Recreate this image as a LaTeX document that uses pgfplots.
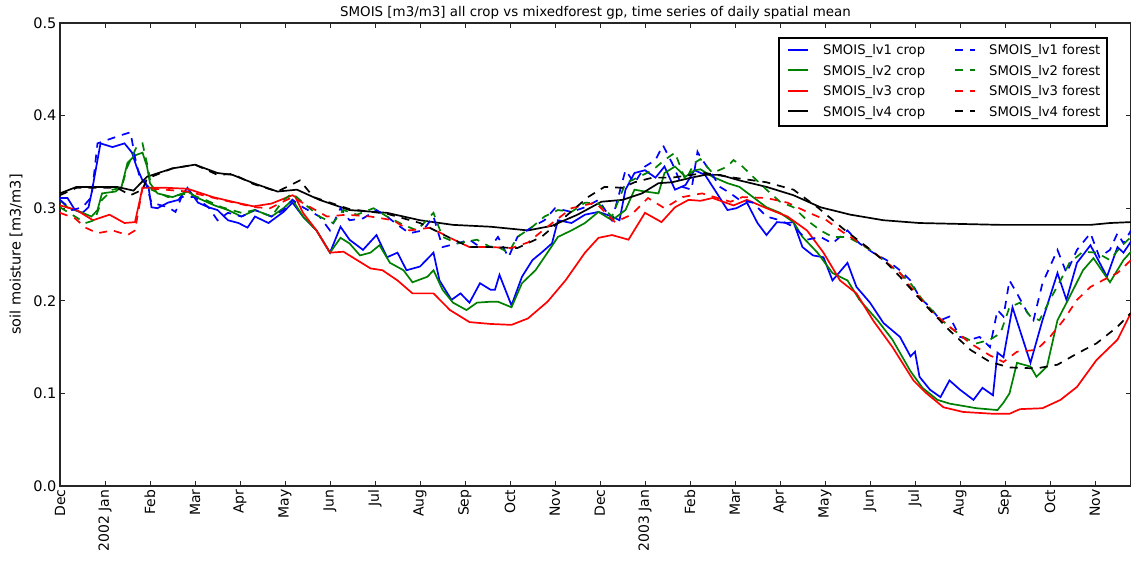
\documentclass[border=0pt]{standalone}
\usepackage{pgfplots}
\pgfplotsset{compat=1.18}
\usepackage{fontspec}
\setmainfont{DejaVu Sans}

\definecolor{mplblue}{rgb}{0,0,1}
\definecolor{mplgreen}{rgb}{0,0.5,0}
\definecolor{mplred}{rgb}{1,0,0}

\tikzset{
  crop/.style={line width=1.7pt},
  forest/.style={line width=1.7pt, dash pattern=on 8pt off 7pt},
}

% one legend row: crop sample + label, forest sample + label
\newcommand{\legrow}[3]{%
  \draw[#2, crop, line width=2pt] (728pt,#1) -- ++(20pt,0pt);
  \node[anchor=base west, inner sep=0pt, font=\fontsize{13.2}{16}\selectfont]
    at ([yshift=-4.7pt]763pt,#1) {SMOIS\_lv#3 crop};
  \draw[#2, forest, line width=2pt] (895pt,#1) -- ++(20pt,0pt);
  \node[anchor=base west, inner sep=0pt, font=\fontsize{13.2}{16}\selectfont]
    at ([yshift=-4.7pt]929pt,#1) {SMOIS\_lv#3 forest};}

% daily spatial means, x = days since 1 Dec 2001 (ticks every 30 days)
\begin{document}
\begin{tikzpicture}
\useasboundingbox (-60pt,-79pt) rectangle (1071pt,486pt);
\begin{axis}[
  at={(0,0)}, anchor=south west,
  scale only axis, width=1071pt, height=463pt,
  xmin=0, xmax=714, ymin=0, ymax=0.5,
  xtick={0,30,60,90,120,150,180,210,240,270,300,330,360,390,420,450,480,510,540,570,600,630,660,690},
  xticklabels={Dec,2002 Jan,Feb,Mar,Apr,May,Jun,Jul,Aug,Sep,Oct,Nov,Dec,2003 Jan,Feb,Mar,Apr,May,Jun,Jul,Aug,Sep,Oct,Nov},
  ytick={0,0.1,0.2,0.3,0.4,0.5},
  yticklabels={0.0,0.1,0.2,0.3,0.4,0.5},
  xticklabel style={rotate=90, anchor=east, font=\fontsize{14}{16}\selectfont},
  yticklabel style={font=\fontsize{14.5}{16}\selectfont},
  tick align=inside, major tick length=5pt,
  tick style={black!85, line width=0.8pt},
  axis line style={black!85, line width=1.2pt},
  title={SMOIS [m3/m3] all crop vs mixedforest gp, time series of daily spatial mean},
  title style={at={(axis description cs:0.5,1)}, anchor=center, yshift=4pt, font=\fontsize{13.4}{15}\selectfont},
  ylabel={soil moisture [m3/m3]},
  ylabel style={at={(axis description cs:-0.041,0.5)}, anchor=center, font=\fontsize{14.5}{16}\selectfont},
]
% ---- crop, level 1
\addplot[mplblue, crop] coordinates {
(0,0.311)(5,0.311)(10,0.298)(15,0.295)(19,0.301)(21,0.316)(25,0.352)(27,0.370)(35,0.366)(43,0.370)
(48,0.360)(51,0.345)(55,0.330)(59,0.323)(61,0.301)(65,0.300)(72,0.306)(79,0.309)(85,0.322)(92,0.306)
(99,0.301)(105,0.298)(112,0.287)(119,0.284)(125,0.279)(130,0.291)(139,0.284)(149,0.296)(155,0.306)(162,0.291)
(171,0.276)(180,0.252)(187,0.280)(193,0.266)(202,0.255)(211,0.271)(218,0.247)(225,0.252)(231,0.233)(240,0.237)
(249,0.252)(253,0.222)(261,0.201)(267,0.208)(273,0.198)(280,0.219)(287,0.212)(290,0.212)(293,0.228)(301,0.195)
(308,0.226)(315,0.244)(321,0.252)(328,0.262)(332,0.287)(341,0.284)(350,0.293)(359,0.296)(368,0.291)(373,0.287)
(377,0.320)(383,0.338)(390,0.341)(397,0.333)(403,0.345)(410,0.320)(417,0.325)(423,0.341)(430,0.336)(438,0.316)
(445,0.298)(451,0.300)(458,0.306)(465,0.284)(471,0.271)(478,0.285)(485,0.284)(489,0.285)(495,0.258)(502,0.249)
(509,0.247)(515,0.222)(525,0.241)(531,0.215)(540,0.198)(549,0.176)(560,0.161)(567,0.140)(570,0.145)(573,0.118)
(580,0.104)(587,0.096)(593,0.114)(600,0.104)(609,0.093)(615,0.106)(622,0.098)(625,0.144)(629,0.139)(635,0.193)
(647,0.133)(655,0.179)(665,0.230)(671,0.201)(678,0.241)(687,0.260)(698,0.226)(705,0.258)(709,0.252)(714,0.264)};
% ---- crop, level 2
\addplot[mplgreen, crop] coordinates {
(0,0.309)(5,0.301)(15,0.295)(21,0.291)(25,0.298)(28,0.316)(37,0.318)(41,0.323)(45,0.349)(50,0.357)
(55,0.360)(58,0.345)(60,0.327)(65,0.316)(75,0.312)(85,0.318)(92,0.311)(103,0.303)(112,0.298)(121,0.291)
(130,0.298)(141,0.291)(149,0.300)(155,0.309)(162,0.291)(171,0.276)(180,0.252)(187,0.268)(193,0.262)(200,0.249)
(207,0.252)(213,0.260)(220,0.241)(229,0.233)(235,0.220)(245,0.226)(249,0.233)(255,0.212)(262,0.198)(271,0.190)
(278,0.198)(287,0.199)(292,0.199)(301,0.193)(308,0.219)(317,0.233)(325,0.252)(332,0.269)(341,0.276)(350,0.284)
(359,0.296)(368,0.287)(377,0.298)(383,0.320)(390,0.318)(399,0.316)(403,0.338)(410,0.345)(417,0.334)(423,0.341)
(427,0.342)(435,0.334)(445,0.327)(453,0.323)(462,0.312)(471,0.301)(480,0.295)(489,0.285)(495,0.269)(505,0.252)
(515,0.230)(525,0.222)(533,0.201)(545,0.179)(555,0.158)(567,0.124)(575,0.106)(585,0.093)(593,0.089)(611,0.084)
(625,0.082)(629,0.090)(633,0.100)(638,0.133)(647,0.129)(651,0.118)(658,0.129)(665,0.179)(673,0.204)(682,0.233)
(689,0.246)(700,0.220)(709,0.244)(714,0.253)};
% ---- crop, level 3
\addplot[mplred, crop] coordinates {
(0,0.303)(11,0.298)(22,0.287)(33,0.293)(43,0.284)(50,0.285)(55,0.322)(71,0.322)(85,0.321)(102,0.312)
(115,0.307)(129,0.302)(141,0.305)(155,0.314)(157,0.312)(162,0.295)(171,0.276)(180,0.252)(189,0.253)(198,0.244)
(207,0.235)(215,0.233)(225,0.222)(235,0.208)(249,0.208)(260,0.190)(273,0.177)(287,0.175)(301,0.174)(312,0.181)
(325,0.199)(337,0.222)(350,0.252)(359,0.268)(368,0.271)(379,0.266)(390,0.295)(401,0.285)(410,0.301)(419,0.309)
(427,0.308)(435,0.311)(449,0.303)(458,0.309)(471,0.300)(485,0.291)(498,0.276)(509,0.252)(520,0.222)(531,0.208)
(542,0.179)(555,0.150)(569,0.114)(577,0.101)(589,0.085)(602,0.080)(622,0.078)(633,0.078)(640,0.083)(655,0.084)
(667,0.093)(678,0.107)(691,0.136)(705,0.158)(714,0.187)};
% ---- crop, level 4
\addplot[black, crop] coordinates {
(0,0.316)(11,0.323)(38,0.323)(49,0.319)(58,0.334)(75,0.343)(90,0.347)(105,0.338)(115,0.336)(129,0.327)
(145,0.318)(158,0.320)(173,0.309)(193,0.298)(218,0.295)(240,0.287)(262,0.282)(287,0.280)(312,0.276)(328,0.281)
(345,0.293)(361,0.307)(375,0.309)(388,0.316)(399,0.327)(408,0.328)(421,0.333)(430,0.336)(440,0.336)(453,0.330)
(471,0.323)(489,0.314)(507,0.301)(527,0.293)(549,0.287)(573,0.284)(600,0.283)(627,0.282)(660,0.282)(687,0.282)
(700,0.284)(714,0.285)};
% ---- forest, level 1
\addplot[mplblue, forest] coordinates {
(0,0.309)(8,0.298)(15,0.301)(21,0.312)(25,0.370)(32,0.374)(41,0.379)(47,0.382)(50,0.355)(53,0.334)
(57,0.328)(61,0.306)(72,0.301)(77,0.296)(81,0.312)(90,0.312)(99,0.301)(105,0.287)(112,0.295)(121,0.291)
(130,0.298)(141,0.291)(149,0.298)(155,0.309)(162,0.301)(173,0.291)(180,0.276)(187,0.300)(193,0.287)(202,0.289)
(211,0.298)(218,0.291)(225,0.282)(233,0.273)(242,0.276)(249,0.291)(255,0.258)(265,0.262)(273,0.266)(280,0.258)
(287,0.258)(292,0.269)(299,0.247)(305,0.269)(315,0.280)(323,0.287)(330,0.300)(341,0.296)(350,0.301)(359,0.309)
(368,0.287)(377,0.341)(383,0.327)(390,0.345)(397,0.352)(402,0.368)(408,0.349)(415,0.323)(421,0.320)(425,0.361)
(427,0.355)(433,0.341)(440,0.323)(447,0.316)(453,0.309)(462,0.306)(471,0.291)(480,0.287)(489,0.280)(498,0.266)
(507,0.269)(515,0.262)(525,0.276)(533,0.262)(542,0.252)(551,0.244)(560,0.233)(567,0.222)(573,0.204)(580,0.193)
(587,0.179)(593,0.183)(600,0.161)(607,0.158)(613,0.161)(620,0.150)(625,0.190)(629,0.183)(633,0.222)(638,0.208)
(645,0.187)(649,0.179)(655,0.219)(665,0.255)(671,0.230)(678,0.255)(687,0.273)(693,0.247)(700,0.255)(705,0.273)
(709,0.262)(714,0.276)};
% ---- forest, level 2
\addplot[mplgreen, forest] coordinates {
(0,0.301)(8,0.293)(17,0.284)(23,0.287)(28,0.309)(35,0.320)(41,0.322)(45,0.345)(51,0.366)(55,0.370)
(59,0.341)(61,0.320)(72,0.312)(85,0.316)(97,0.309)(108,0.301)(121,0.295)(130,0.298)(141,0.291)(149,0.309)
(155,0.316)(162,0.306)(173,0.291)(182,0.284)(189,0.298)(198,0.293)(209,0.300)(218,0.291)(229,0.282)(238,0.276)
(249,0.295)(255,0.269)(265,0.262)(278,0.266)(287,0.258)(290,0.260)(299,0.252)(305,0.269)(315,0.280)(323,0.291)
(332,0.298)(341,0.296)(350,0.306)(359,0.305)(368,0.291)(377,0.327)(385,0.333)(395,0.341)(403,0.352)(410,0.360)
(417,0.330)(423,0.349)(427,0.353)(435,0.338)(445,0.345)(449,0.352)(455,0.345)(462,0.334)(471,0.320)(480,0.307)
(489,0.301)(498,0.287)(507,0.276)(515,0.269)(525,0.269)(533,0.262)(542,0.253)(551,0.241)(560,0.230)(567,0.219)
(575,0.201)(585,0.183)(593,0.172)(602,0.161)(611,0.154)(620,0.158)(627,0.165)(633,0.193)(640,0.198)(647,0.183)
(653,0.179)(660,0.201)(667,0.222)(673,0.241)(682,0.253)(691,0.252)(700,0.244)(707,0.258)(714,0.269)};
% ---- forest, level 3
\addplot[mplred, forest] coordinates {
(0,0.295)(10,0.289)(17,0.279)(25,0.273)(35,0.276)(45,0.271)(50,0.276)(55,0.322)(85,0.318)(108,0.309)
(130,0.301)(140,0.300)(155,0.312)(167,0.301)(178,0.291)(191,0.293)(207,0.291)(222,0.287)(233,0.276)(247,0.279)
(260,0.268)(273,0.258)(287,0.258)(301,0.257)(312,0.263)(325,0.280)(341,0.300)(357,0.306)(370,0.285)(381,0.293)
(392,0.311)(403,0.300)(415,0.312)(428,0.316)(447,0.307)(455,0.312)(471,0.311)(485,0.306)(498,0.296)(511,0.287)
(522,0.274)(538,0.258)(549,0.244)(560,0.230)(567,0.215)(573,0.204)(580,0.190)(593,0.172)(607,0.154)(620,0.141)
(629,0.134)(638,0.145)(651,0.147)(660,0.161)(669,0.179)(678,0.201)(687,0.215)(695,0.222)(705,0.230)(714,0.244)};
% ---- forest, level 4
\addplot[black, forest] coordinates {
(0,0.314)(11,0.322)(38,0.322)(47,0.314)(55,0.320)(58,0.332)(75,0.343)(90,0.347)(105,0.336)(115,0.337)
(129,0.326)(145,0.318)(160,0.330)(169,0.312)(193,0.299)(218,0.294)(240,0.284)(260,0.268)(273,0.258)(287,0.258)
(305,0.257)(321,0.269)(337,0.291)(352,0.312)(363,0.323)(375,0.322)(383,0.328)(395,0.333)(408,0.333)(430,0.338)
(449,0.333)(471,0.328)(489,0.320)(505,0.301)(522,0.278)(538,0.258)(551,0.241)(560,0.226)(571,0.206)(580,0.190)
(593,0.168)(607,0.147)(620,0.134)(633,0.128)(651,0.127)(665,0.131)(678,0.143)(691,0.154)(705,0.172)(714,0.187)};
\end{axis}
% legend box in the upper right of the axis (axis box spans 0..1071pt x 0..463pt)
\filldraw[fill=white, draw=black, line width=1.2pt] (719pt,360pt) rectangle (1047pt,448pt);
\legrow{436pt}{mplblue}{1}
\legrow{415.5pt}{mplgreen}{2}
\legrow{395pt}{mplred}{3}
\legrow{374.5pt}{black}{4}
\end{tikzpicture}
\end{document}
